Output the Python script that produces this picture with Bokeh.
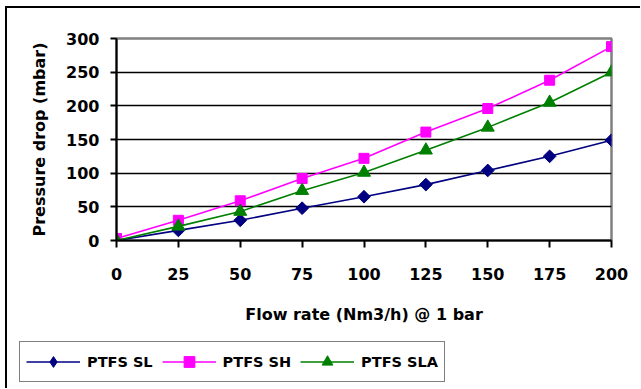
import math
from bokeh.plotting import figure
from bokeh.layouts import column
from bokeh.models import Range1d, Legend, LegendItem, FixedTicker
from bokeh.embed import file_html
from bokeh.resources import INLINE

flow = [0, 25, 50, 75, 100, 125, 150, 175, 200]
ptfs_sl = [0, 15, 30, 48, 65, 83, 104, 125, 149]
ptfs_sh = [3, 30, 59, 92, 122, 161, 196, 238, 288]
ptfs_sla = [0, 21, 43, 74, 101, 134, 168, 205, 250]
x_ticks = [0, 25, 50, 75, 100, 125, 150, 175, 200]
y_ticks = [0, 50, 100, 150, 200, 250, 300]
grid_ticks = [50, 100, 150, 200, 250]

FONT = "DejaVu Sans"

p = figure(width=633, height=327, output_backend="svg", toolbar_location=None,
           x_range=Range1d(0, 200), y_range=Range1d(0, 300),
           min_border_left=109, min_border_right=29, min_border_top=30,
           min_border_bottom=95)
p.frame_align = False
p.background_fill_color = "white"
p.border_fill_color = "white"
p.outline_line_color = "#808080"
p.outline_line_width = 2.5

# axes
for ax in (p.xaxis[0], p.yaxis[0]):
    ax.axis_line_color = "black"
    ax.axis_line_width = 2
    ax.major_tick_line_color = "black"
    ax.major_tick_line_width = 2
    ax.major_tick_in = 0
    ax.minor_tick_line_color = None
    ax.major_label_text_font = FONT
    ax.major_label_text_font_style = "bold"
    ax.major_label_text_font_size = "16px"
    ax.major_label_text_color = "black"
    ax.axis_label_text_font = FONT
    ax.axis_label_text_font_style = "bold"
    ax.axis_label_text_font_size = "16px"
    ax.axis_label_text_color = "black"

p.xaxis.ticker = FixedTicker(ticks=x_ticks)
p.xaxis.major_tick_out = 7
p.xaxis.major_label_standoff = 20
p.xaxis.axis_label = "Flow rate (Nm3/h) @ 1 bar"
p.xaxis.axis_label_standoff = 22

p.yaxis.ticker = FixedTicker(ticks=y_ticks)
p.yaxis.major_tick_out = 6
p.yaxis.major_label_standoff = 11
p.yaxis.axis_label = "Pressure drop (mbar)"
p.yaxis.axis_label_standoff = 14

p.xgrid.visible = False
p.ygrid.ticker = FixedTicker(ticks=grid_ticks)
p.ygrid.grid_line_color = "black"
p.ygrid.grid_line_width = 1.6

# legend strip: a separate small figure whose frame covers its whole canvas;
# its view ranges are set away from the data so only the legend shows
pl = figure(width=633, height=53, output_backend="svg", toolbar_location=None,
            x_range=Range1d(-20, -19), y_range=Range1d(-20, -19),
            min_border=0, x_axis_location=None, y_axis_location=None)
pl.frame_align = False
pl.grid.visible = False
pl.outline_line_color = None
pl.background_fill_color = "white"
pl.border_fill_color = "white"

series = [
    ("PTFS SL", ptfs_sl, "#000080", "square", 9, math.pi / 4, "diamond"),
    ("PTFS SH", ptfs_sh, "#FF00FF", "square", 10, 0, "square"),
    ("PTFS SLA", ptfs_sla, "#008000", "triangle", 13, 0, "triangle"),
]
items = []
for name, vals, col, mk, sz, ang, lmk in series:
    p.line(flow, vals, line_color=col, line_width=1.6)
    p.scatter(flow, vals, marker=mk, size=sz, angle=ang,
              fill_color=col, line_color=col)
    l1 = pl.line(flow, vals, line_color=col, line_width=1.6)
    l2 = pl.scatter(flow, vals, marker=lmk, size=sz,
                    fill_color=col, line_color=col)
    items.append(LegendItem(label=name, renderers=[l1, l2]))

legend = Legend(items=items, orientation="horizontal", location=(12, 6),
                glyph_width=54, glyph_height=27, label_standoff=7, spacing=9,
                padding=6, margin=0, border_line_color="black",
                border_line_width=1.5, background_fill_color="white",
                background_fill_alpha=1.0,
                label_text_font=FONT, label_text_font_style="bold",
                label_text_font_size="14.5px", label_text_color="black")
pl.add_layout(legend, "center")

layout = column(p, pl, spacing=0, margin=(6, 0, 0, 5),
                styles={"border-left": "2px solid black",
                        "border-top": "2px solid black"})

open("out.html", "w").write(file_html(layout, INLINE))
